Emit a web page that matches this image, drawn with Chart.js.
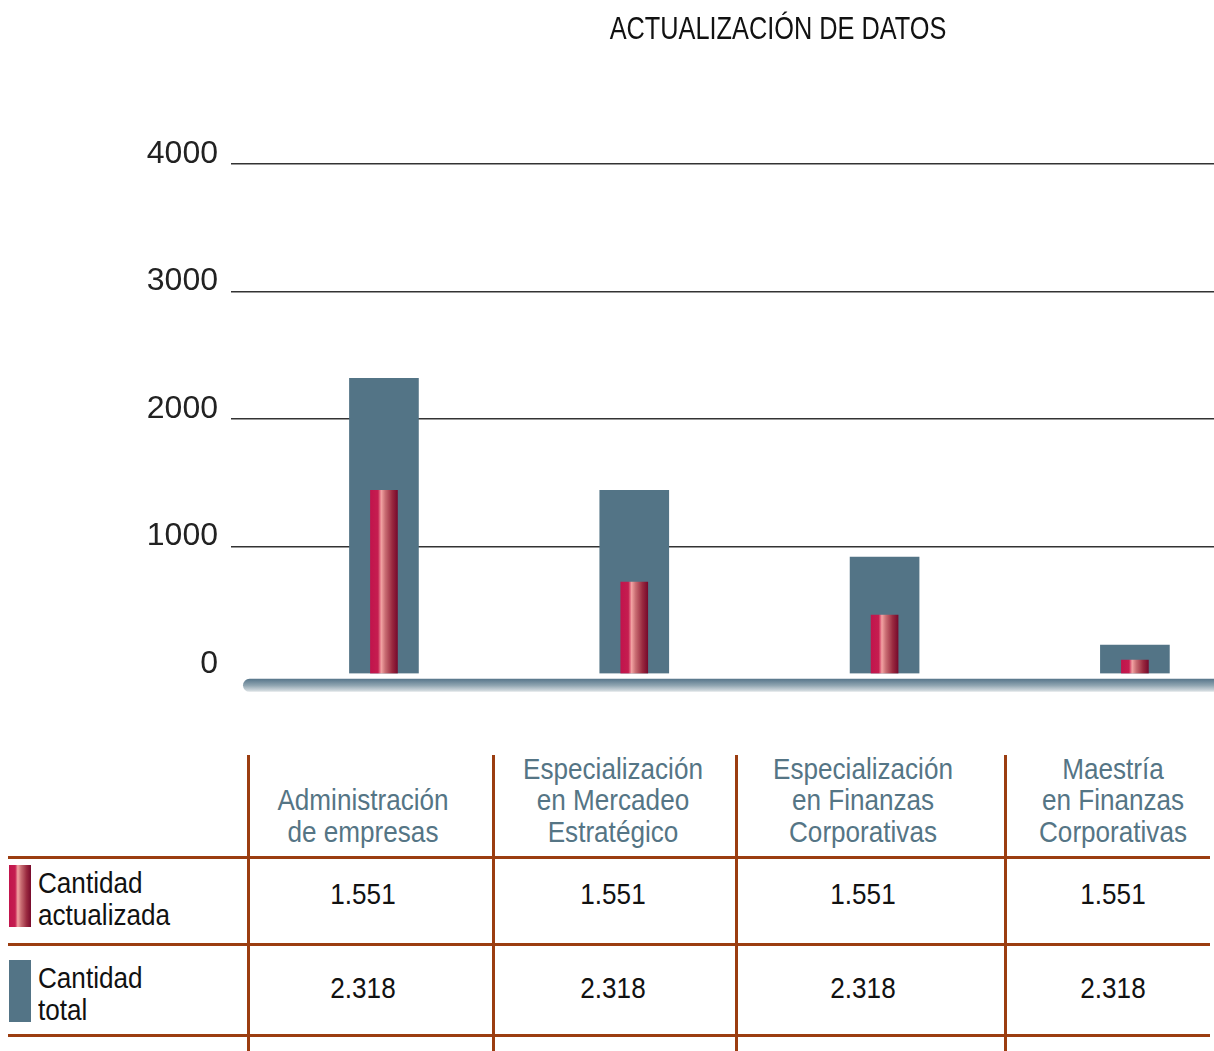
<!DOCTYPE html>
<html>
<head>
<meta charset="utf-8">
<script src="https://cdn.jsdelivr.net/npm/chart.js@4.4.1/dist/chart.umd.min.js"></script>
<style>
  body { margin: 0; background: #fff; overflow: hidden; font-family: "Liberation Sans", Arial, sans-serif; }
  #wrap { position: relative; width: 1214px; height: 1051px; }
  #chart { position: absolute; left: 0; top: 0; }
  .title { position: absolute; left: 478px; width: 600px; top: 11px; text-align: center; font-size: 30.5px; color: #111; transform: scaleX(0.83); }
  .vline { position: absolute; width: 3px; background: #9b3d10; top: 755px; height: 296px; }
  .hline { position: absolute; height: 3px; background: #9b3d10; left: 8px; width: 1202px; }
  .head { position: absolute; width: 280px; text-align: center; font-size: 29px; line-height: 31.5px; color: #557585; bottom: 203px; transform: scaleX(0.9); }
  .cell { position: absolute; width: 200px; text-align: center; font-size: 29px; color: #111; transform: scaleX(0.9); }
  .rowlab { position: absolute; left: 38px; font-size: 29px; line-height: 31.5px; color: #111; transform: scaleX(0.9); transform-origin: left center; }
  .swatch { position: absolute; left: 9px; width: 22px; height: 62px; }
</style>
</head>
<body>
<div id="wrap">
  <canvas id="chart" width="1214" height="706"></canvas>
  <div class="title">ACTUALIZACIÓN DE DATOS</div>
  <div id="table"></div>
</div>
<script>
const categories = [
  ['Administración', 'de empresas'],
  ['Especialización', 'en Mercadeo', 'Estratégico'],
  ['Especialización', 'en Finanzas', 'Corporativas'],
  ['Maestría', 'en Finanzas', 'Corporativas']
];
const totalValues = [2318, 1440, 915, 225];
const updatedValues = [1440, 720, 460, 108];
const updatedLabels = ['1.551', '1.551', '1.551', '1.551'];
const totalLabels = ['2.318', '2.318', '2.318', '2.318'];
const seriesNames = [['Cantidad', 'actualizada'], ['Cantidad', 'total']];
const yTicks = [0, 1000, 2000, 3000, 4000];

const slate = '#537486';
const fontFamily = '"Liberation Sans", Arial, sans-serif';

function redGradient(ctx, cx, half) {
  const g = ctx.createLinearGradient(cx - half, 0, cx + half, 0);
  g.addColorStop(0, '#c1144c');
  g.addColorStop(0.28, '#c51d50');
  g.addColorStop(0.4, '#f3a3a3');
  g.addColorStop(0.55, '#c86c72');
  g.addColorStop(0.8, '#9a2a40');
  g.addColorStop(1, '#780a2c');
  return g;
}

// rounded base under the bars
const basePlugin = {
  id: 'base',
  afterDatasetsDraw(chart) {
    const { ctx, scales } = chart;
    const y0 = scales.y.getPixelForValue(0);
    const top = y0 + 5, h = 13;
    const g = ctx.createLinearGradient(0, top, 0, top + h);
    g.addColorStop(0, '#56758a');
    g.addColorStop(0.5, '#8ea4b0');
    g.addColorStop(1, '#dfe4e7');
    ctx.save();
    ctx.fillStyle = g;
    ctx.beginPath();
    ctx.roundRect(243, top, 1000, h, h / 2);
    ctx.fill();
    ctx.restore();
  }
};

new Chart(document.getElementById('chart'), {
  type: 'bar',
  data: {
    datasets: [
      {
        label: seriesNames[0].join(' '),
        data: updatedValues.map((v, i) => ({ x: i, y: v })),
        grouped: false,
        barThickness: 27,
        backgroundColor: (c) => {
          const chart = c.chart;
          if (!chart.chartArea || c.type !== 'data') return '#c1144c';
          const cx = chart.scales.x.getPixelForValue(c.dataIndex);
          return redGradient(chart.ctx, cx, 13.5);
        }
      },
      {
        label: seriesNames[1].join(' '),
        data: totalValues.map((v, i) => ({ x: i, y: v })),
        grouped: false,
        barThickness: 69,
        backgroundColor: slate
      }
    ]
  },
  options: {
    responsive: false,
    animation: false,
    layout: { padding: { top: 164, right: 0, bottom: 19.5, left: 0 } },
    plugins: { legend: { display: false }, tooltip: { enabled: false } },
    scales: {
      x: { type: 'linear', min: -0.611, max: 3.316, offset: false, display: false },
      y: {
        min: 0,
        max: 4000,
        afterBuildTicks: (s) => { s.ticks = yTicks.map(v => ({ value: v })); },
        afterFit: (s) => { s.width = 231; },
        border: { display: false },
        grid: {
          drawTicks: false,
          lineWidth: 1.5,
          color: (c) => c.tick && c.tick.value === 0 ? 'rgba(0,0,0,0)' : '#333'
        },
        ticks: {
          padding: 13,
          labelOffset: -10,
          color: '#222',
          font: { family: fontFamily, size: 32 },
          callback: (v) => String(v)
        }
      }
    }
  },
  plugins: [basePlugin]
});

// table under the chart
const table = document.getElementById('table');
const colCenters = [363, 613, 863, 1113];
const vlines = [248, 493, 736, 1005];
const hlines = [856, 943, 1034];
let html = '';
vlines.forEach(x => { html += `<div class="vline" style="left:${x - 1}px"></div>`; });
hlines.forEach(y => { html += `<div class="hline" style="top:${y}px"></div>`; });
categories.forEach((lines, i) => {
  html += `<div class="head" style="left:${colCenters[i] - 140}px">${lines.join('<br>')}</div>`;
  html += `<div class="cell" style="left:${colCenters[i] - 100}px;top:878px">${updatedLabels[i]}</div>`;
  html += `<div class="cell" style="left:${colCenters[i] - 100}px;top:972px">${totalLabels[i]}</div>`;
});
html += `<div class="swatch" style="top:865px;background:linear-gradient(to right,#c1144c 0%,#c51d50 28%,#f3a3a3 40%,#c86c72 55%,#9a2a40 80%,#780a2c 100%)"></div>`;
html += `<div class="swatch" style="top:960px;background:${slate}"></div>`;
html += `<div class="rowlab" style="top:868px">${seriesNames[0].join('<br>')}</div>`;
html += `<div class="rowlab" style="top:963px">${seriesNames[1].join('<br>')}</div>`;
table.innerHTML = html;
</script>
</body>
</html>
